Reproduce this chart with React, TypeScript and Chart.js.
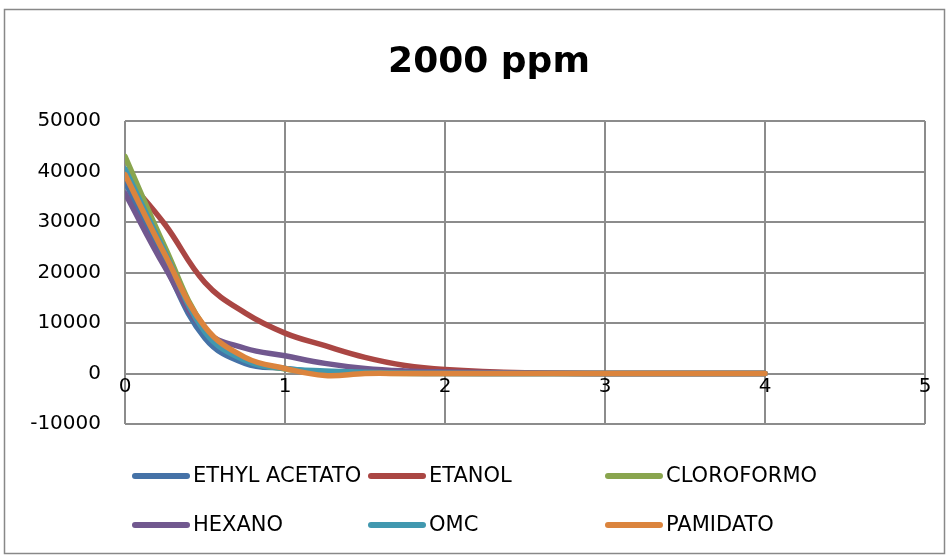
import React, { useEffect, useRef } from "react";
import { Chart, registerables } from "chart.js";

Chart.register(...registerables);

const TITLE = "2000 ppm";
const X_VALUES = [0, 0.25, 0.5, 0.75, 1, 1.25, 1.5, 1.75, 2, 2.5, 3, 3.5, 4];

const ETHYL_ACETATO = [38000, 21500, 7000, 2000, 1000, 200, 100, 50, 0, 0, 0, 0, 0];
const ETANOL = [39000, 29500, 18000, 12000, 8000, 5500, 3200, 1600, 800, 150, 0, 0, 0];
const CLOROFORMO = [43000, 25000, 9000, 2800, 900, 300, 100, 0, 0, 0, 0, 0, 0];
const HEXANO = [35700, 21000, 8500, 5000, 3500, 2000, 1000, 500, 300, 100, 0, 0, 0];
const OMC = [40500, 24000, 8200, 2600, 1000, 500, 250, 100, 50, 0, 0, 0, 0];
const PAMIDATO = [39400, 23500, 9200, 3200, 1000, -400, 0, 0, 0, 0, 0, 0, 0];

const SERIES_NAMES = ["ETHYL ACETATO", "ETANOL", "CLOROFORMO", "HEXANO", "OMC", "PAMIDATO"];
const SERIES_VALUES = [ETHYL_ACETATO, ETANOL, CLOROFORMO, HEXANO, OMC, PAMIDATO];
const SERIES_COLORS = ["#4572A7", "#AA4643", "#89A54E", "#71588F", "#4198AF", "#DB843D"];

const X_MIN = 0;
const X_MAX = 5;
const X_STEP = 1;
const Y_MIN = -10000;
const Y_MAX = 50000;
const Y_STEP = 10000;

const FONT = "'DejaVu Sans', sans-serif";
const GRID = "#8C8C8C";

const decorPlugin = {
  id: "decor",
  beforeDraw(chart: any) {
    const ctx = chart.ctx;
    ctx.save();
    ctx.fillStyle = "#ffffff";
    ctx.fillRect(0, 0, chart.width, chart.height);
    ctx.strokeStyle = "#888888";
    ctx.lineWidth = 1.5;
    ctx.strokeRect(4.5, 9.5, 940, 544);
    ctx.restore();
  },
  afterDraw(chart: any) {
    const ctx = chart.ctx;
    ctx.save();
    // title
    ctx.fillStyle = "#000000";
    ctx.font = `bold 36px ${FONT}`;
    ctx.textAlign = "center";
    ctx.textBaseline = "alphabetic";
    ctx.fillText(TITLE, 489, 72);
    // legend
    const cols = [133, 369, 606];
    const rows = [476, 525];
    ctx.font = `21px ${FONT}`;
    ctx.textAlign = "left";
    ctx.textBaseline = "middle";
    chart.data.datasets.forEach((ds: any, i: number) => {
      const cx = cols[i % 3];
      const cy = rows[Math.floor(i / 3)];
      ctx.strokeStyle = ds.borderColor;
      ctx.lineWidth = 6;
      ctx.lineCap = "round";
      ctx.beginPath();
      ctx.moveTo(cx + 2, cy);
      ctx.lineTo(cx + 54, cy);
      ctx.stroke();
      ctx.fillStyle = "#000000";
      ctx.fillText(ds.label, cx + 60, cy + 1);
    });
    ctx.restore();
  },
};

export default function App() {
  const canvasRef = useRef<HTMLCanvasElement | null>(null);

  useEffect(() => {
    document.body.style.margin = "0";
    const canvas = canvasRef.current;
    if (!canvas) return;
    const datasets = SERIES_NAMES.map((name, i) => ({
      label: name,
      data: X_VALUES.map((x, j) => ({ x, y: SERIES_VALUES[i][j] })),
      borderColor: SERIES_COLORS[i],
      backgroundColor: SERIES_COLORS[i],
      borderWidth: 5.5,
      borderCapStyle: "round" as const,
      borderJoinStyle: "round" as const,
      showLine: true,
      pointRadius: 0,
      pointHoverRadius: 0,
      tension: 0.4,
      fill: false,
      order: SERIES_NAMES.length - i,
    }));
    const chart = new Chart(canvas, {
      type: "scatter",
      data: { datasets },
      plugins: [decorPlugin],
      options: {
        animation: false,
        responsive: false,
        maintainAspectRatio: false,
        devicePixelRatio: 1,
        layout: { padding: { left: 0, right: 24, top: 121, bottom: 132 } },
        plugins: {
          legend: { display: false },
          title: { display: false },
          tooltip: { enabled: false },
        },
        scales: {
          x: {
            type: "linear",
            min: X_MIN,
            max: X_MAX,
            position: { y: 0 } as any,
            grid: { color: GRID, lineWidth: 2, drawTicks: false },
            border: { display: false },
            ticks: {
              stepSize: X_STEP,
              padding: 1,
              color: "#000000",
              font: { family: FONT, size: 20 },
              maxRotation: 0,
              callback: (v: any) => String(v),
            },
          },
          y: {
            type: "linear",
            min: Y_MIN,
            max: Y_MAX,
            position: "left",
            grid: { color: GRID, lineWidth: 2, drawTicks: false },
            border: { display: false },
            ticks: {
              stepSize: Y_STEP,
              padding: 24,
              color: "#000000",
              font: { family: FONT, size: 20 },
              callback: (v: any) => String(v),
            },
            afterFit: (scale: any) => {
              scale.width = 125;
            },
          },
        },
      },
    });
    return () => chart.destroy();
  }, []);

  return (
    <div style={{ width: 949, height: 556 }}>
      <canvas ref={canvasRef} width={949} height={556} style={{ display: "block" }} />
    </div>
  );
}
